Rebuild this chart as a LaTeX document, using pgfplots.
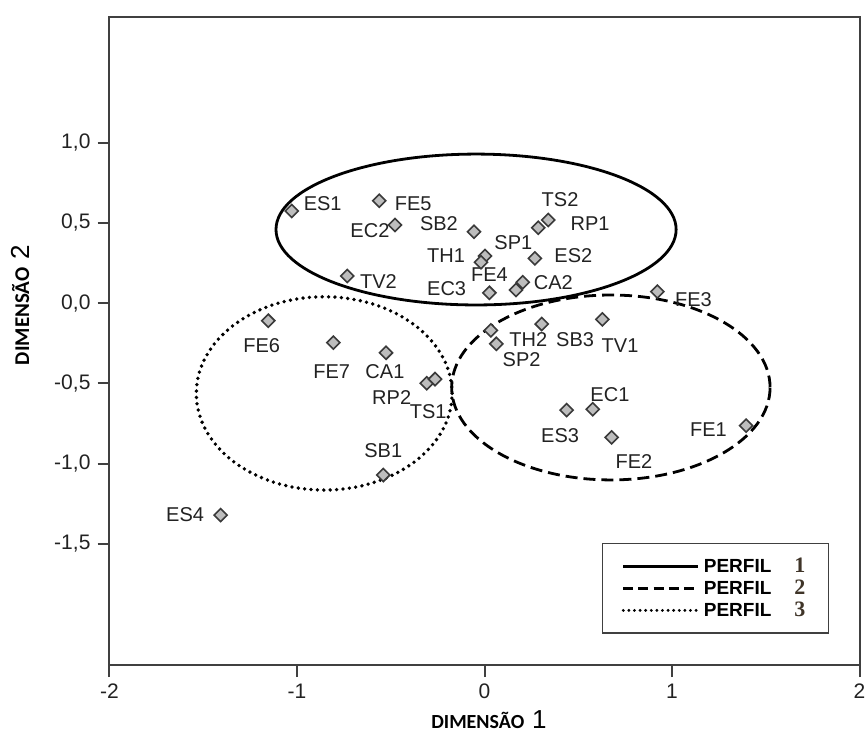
\documentclass[border=0pt]{standalone}
\usepackage{pgfplots}
\pgfplotsset{compat=1.18}
\usepackage{fontspec}
\setmainfont{Liberation Sans}
\newfontfamily\calb{Carlito}
\newfontfamily\serifb{Liberation Serif}
\definecolor{numcol}{HTML}{3F3428}
\definecolor{framecol}{HTML}{404040}
\definecolor{markfill}{HTML}{BDBDBD}
\definecolor{markdraw}{HTML}{3A3A3A}
\definecolor{labcol}{HTML}{222222}

\pgfplotstableread{
x y
-1.028 0.573
-0.561 0.637
-0.477 0.486
-0.056 0.444
0.287 0.469
0.340 0.517
0.003 0.293
-0.019 0.254
0.269 0.278
0.204 0.129
0.168 0.081
0.026 0.064
-0.732 0.168
0.922 0.071
0.034 -0.170
0.063 -0.254
0.305 -0.131
0.629 -0.102
0.438 -0.667
0.577 -0.662
0.678 -0.837
1.395 -0.764
-1.153 -0.110
-0.806 -0.247
-0.525 -0.310
-0.308 -0.500
-0.264 -0.474
-0.540 -1.072
-1.407 -1.321
}\points

\begin{document}
\begin{tikzpicture}
\begin{axis}[
  at={(0pt,0pt)}, anchor=south west,
  scale only axis,
  width=375pt, height=324pt,
  xmin=-2, xmax=2, ymin=-2.255, ymax=1.782,
  xtick={-2,-1,0,1,2},
  ytick={-1.5,-1,-0.5,0,0.5,1},
  xtick pos=bottom, ytick pos=left,
  tick align=outside,
  major tick length=6pt,
  axis line style={framecol, line width=1pt},
  every tick/.style={framecol, line width=1pt},
  /pgf/number format/assume math mode=true,
  tick label style={font=\fontsize{10.5}{12}\selectfont, text=labcol},
  yticklabel style={/pgf/number format/.cd, fixed, fixed zerofill, precision=1, use comma},
  xticklabel style={/pgf/number format/.cd, fixed, precision=0},
  legend style={at={(0.6565,0.1887)}, anchor=north west, draw=framecol, line width=0.8pt,
    font=\bfseries\fontsize{9.5}{10}\selectfont, inner xsep=9.5pt, inner ysep=5pt, row sep=-1.75pt},
  legend cell align=left,
  legend image code/.code={\draw[#1] (0pt,0pt) -- (37.5pt,0pt);},
]
\addplot[only marks, mark=square*, mark size=2.3pt,
  mark options={rotate=45, fill=markfill, draw=markdraw, line width=0.8pt}, forget plot]
  table[x=x, y=y] {\points};

\draw[black, line width=1.4pt] (axis cs:-0.045,0.458) ellipse [x radius=1.067, y radius=0.470];
\draw[black, line width=1.4pt, dash pattern=on 6pt off 3pt] (axis cs:0.674,-0.526) ellipse [x radius=0.849, y radius=0.576];
\draw[black, line width=1.9pt, line cap=round, dash pattern=on 0pt off 3.2pt] (axis cs:-0.855,-0.563) ellipse [x radius=0.682, y radius=0.602];

\addlegendimage{black, line width=1.4pt}
\addlegendentry{PERFIL\hspace{11.5pt}{\serifb\bfseries\fontsize{11}{10}\selectfont\color{numcol}1}}
\addlegendimage{black, line width=1.4pt, dash pattern=on 5pt off 2.6pt}
\addlegendentry{PERFIL\hspace{11.5pt}{\serifb\bfseries\fontsize{11}{10}\selectfont\color{numcol}2}}
\addlegendimage{black, line width=1.6pt, line cap=round, dash pattern=on 0pt off 2.8pt}
\addlegendentry{PERFIL\hspace{11.5pt}{\serifb\bfseries\fontsize{11}{10}\selectfont\color{numcol}3}}

\begin{scope}[every node/.style={font=\fontsize{10}{12}\selectfont, text=labcol, inner sep=0pt}]
\node at (axis cs:-0.863,0.621) {ES1};
\node at (axis cs:-0.380,0.621) {FE5};
\node at (axis cs:-0.611,0.450) {EC2};
\node at (axis cs:-0.243,0.492) {SB2};
\node at (axis cs:0.403,0.646) {TS2};
\node at (axis cs:0.563,0.492) {RP1};
\node at (axis cs:0.154,0.376) {SP1};
\node at (axis cs:-0.205,0.293) {TH1};
\node at (axis cs:0.474,0.293) {ES2};
\node at (axis cs:0.026,0.174) {FE4};
\node at (axis cs:0.367,0.129) {CA2};
\node at (axis cs:-0.202,0.092) {EC3};
\node at (axis cs:-0.566,0.133) {TV2};
\node at (axis cs:-1.188,-0.268) {FE6};
\node at (axis cs:-0.815,-0.428) {FE7};
\node at (axis cs:-0.531,-0.428) {CA1};
\node at (axis cs:-0.495,-0.588) {RP2};
\node at (axis cs:-0.300,-0.677) {TS1};
\node at (axis cs:-0.540,-0.920) {SB1};
\node at (axis cs:-1.597,-1.321) {ES4};
\node at (axis cs:1.114,0.019) {FE3};
\node at (axis cs:0.234,-0.226) {TH2};
\node at (axis cs:0.483,-0.226) {SB3};
\node at (axis cs:0.723,-0.268) {TV1};
\node at (axis cs:0.198,-0.355) {SP2};
\node at (axis cs:0.669,-0.569) {EC1};
\node at (axis cs:0.403,-0.829) {ES3};
\node at (axis cs:0.797,-0.989) {FE2};
\node at (axis cs:1.194,-0.791) {FE1};
\end{scope}
\end{axis}
\node at (189.75pt,-27.5pt) {{\calb\bfseries\fontsize{10}{11}\selectfont DIMENSÃO}\hspace{4pt}{\fontsize{13}{13}\selectfont 1}};
\node[rotate=90] at (-44.75pt,180pt) {{\calb\bfseries\fontsize{10.5}{11}\selectfont DIMENSÃO}\hspace{4pt}{\fontsize{13}{13}\selectfont 2}};
\pgfresetboundingbox
\path[use as bounding box] (-54.75pt,-37.5pt) rectangle (378.25pt,332.5pt);
\end{tikzpicture}
\end{document}
